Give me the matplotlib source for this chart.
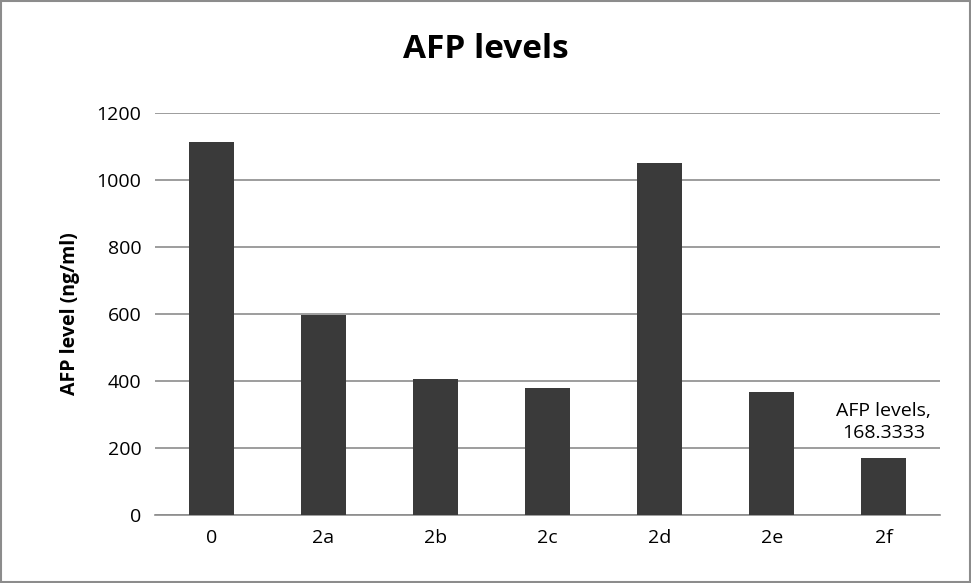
import matplotlib.pyplot as plt

categories = ['0', '2a', '2b', '2c', '2d', '2e', '2f']
afp_values = [1115, 598, 406, 378, 1050, 367, 168.3333]
y_ticks = [0, 200, 400, 600, 800, 1000, 1200]

plt.rcParams['font.family'] = ['Open Sans', 'DejaVu Sans']

fig = plt.figure(figsize=(9.71, 5.83), dpi=100)
ax = fig.add_axes([0.16, 0.117, 0.808, 0.689])

ax.bar(categories, afp_values, width=0.4, color='#3a3a3a', zorder=3)
ax.set_ylim(0, 1200)
ax.set_xlim(-0.5, len(categories) - 0.5)
ax.set_yticks(y_ticks)
ax.yaxis.grid(True, color='#8c8c8c', linewidth=1.2, zorder=0)
for s in ['top', 'right', 'left']:
    ax.spines[s].set_visible(False)
ax.spines['bottom'].set_color('#8c8c8c')
ax.spines['bottom'].set_linewidth(1.2)
ax.tick_params(axis='both', length=0, labelsize=14, pad=10)
ax.set_ylabel('AFP level (ng/ml)', fontsize=14, fontweight='bold', labelpad=12)
fig.text(0.5, 0.915, 'AFP levels', ha='center', va='center', fontsize=24, fontweight='bold')

ax.annotate('AFP levels,\n168.3333', (6, afp_values[6]), xytext=(0, 12),
            textcoords='offset points', ha='center', va='bottom', fontsize=14,
            linespacing=1.3)

fig.patches.append(plt.Rectangle((0.001, 0.001), 0.998, 0.998, transform=fig.transFigure,
                                 fill=False, edgecolor='#8c8c8c', linewidth=1.5))
fig.savefig('out.png', dpi=100)
